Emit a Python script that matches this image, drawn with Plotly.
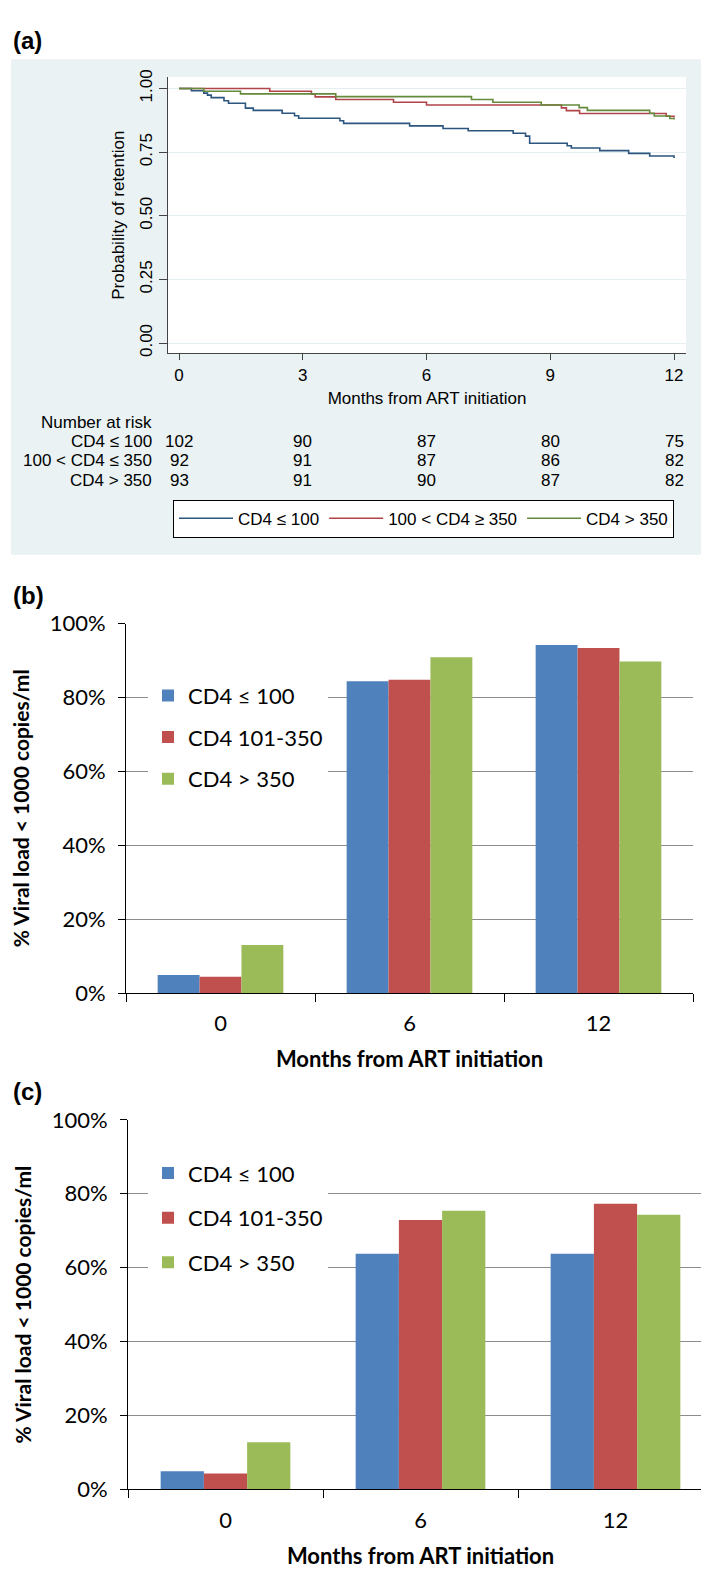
import plotly.graph_objects as go

W, H = 709, 1577


def fx(p):
    return p / W


def fy(p):
    return 1 - p / H


# ---------------- Panel (a): Kaplan-Meier retention ----------------
km_t_low = [0, 0.30, 0.60, 0.69, 0.78, 1.09, 1.20, 1.61, 1.80, 2.50, 2.80, 2.90, 3.90, 3.99,
            5.59, 6.40, 7.01, 8.10, 8.40, 8.50, 9.41, 9.51, 10.20, 10.90, 11.41, 12.0]
km_s_low = [1.0, 0.991, 0.982, 0.974, 0.964, 0.952, 0.942, 0.923, 0.914, 0.903, 0.893, 0.883, 0.873, 0.863,
            0.853, 0.843, 0.834, 0.824, 0.813, 0.785, 0.775, 0.766, 0.756, 0.745, 0.735, 0.727]
km_t_mid = [0, 2.20, 3.21, 3.30, 3.80, 5.20, 6.00, 9.27, 9.39, 9.71, 11.81, 12.0]
km_s_mid = [1.0, 0.989, 0.978, 0.967, 0.957, 0.946, 0.935, 0.924, 0.913, 0.902, 0.891, 0.886]
km_t_high = [0, 0.60, 1.49, 3.80, 7.09, 7.61, 8.78, 9.70, 9.90, 11.41, 11.52, 11.90, 12.0]
km_s_high = [1.0, 0.989, 0.979, 0.968, 0.957, 0.946, 0.935, 0.925, 0.914, 0.903, 0.892, 0.882, 0.878]
km_names = ["CD4 ≤ 100", "100 < CD4 ≥ 350", "CD4 > 350"]
km_colors = ["#2c5680", "#b04448", "#648a3c"]

km_xticks = [0, 3, 6, 9, 12]
km_yticks = [0, 0.25, 0.5, 0.75, 1.0]
km_yticktext = ["0.00", "0.25", "0.50", "0.75", "1.00"]

risk_months = [0, 3, 6, 9, 12]
risk_labels = ["CD4 ≤ 100", "100 < CD4 ≤ 350", "CD4 > 350"]
risk_low = [102, 90, 87, 80, 75]
risk_mid = [92, 91, 87, 86, 82]
risk_high = [93, 91, 90, 87, 82]

# ---------------- Panels (b) and (c): viral suppression ----------------
vl_months = ["0", "6", "12"]
vl_names = ["CD4 ≤ 100", "CD4 101-350", "CD4 > 350"]
vl_colors = ["#4f81bd", "#c0504d", "#9bbb59"]
b_low = [4.9, 84.4, 94.2]
b_mid = [4.4, 84.8, 93.4]
b_high = [13.0, 90.9, 89.7]
c_low = [4.9, 63.8, 63.8]
c_mid = [4.3, 72.9, 77.3]
c_high = [12.8, 75.4, 74.3]

STATA_FONT = "Liberation Sans, Arial, sans-serif"
OFFICE_FONT = "Lato, Open Sans, sans-serif"

fig = go.Figure()

for t, s, nm, col in zip([km_t_low, km_t_mid, km_t_high],
                         [km_s_low, km_s_mid, km_s_high], km_names, km_colors):
    fig.add_trace(go.Scatter(x=t, y=s, mode="lines", name=nm,
                             line=dict(shape="hv", color=col, width=1.6),
                             xaxis="x", yaxis="y", legend="legend"))

for k, (vals, nm, col) in enumerate(zip([b_low, b_mid, b_high], vl_names, vl_colors)):
    fig.add_trace(go.Bar(x=vl_months, y=vals, name=nm, marker=dict(color=col, line=dict(width=0)),
                         xaxis="x2", yaxis="y2", legend="legend2", legendgroup="b%d" % k))
for k, (vals, nm, col) in enumerate(zip([c_low, c_mid, c_high], vl_names, vl_colors)):
    fig.add_trace(go.Bar(x=vl_months, y=vals, name=nm, marker=dict(color=col, line=dict(width=0)),
                         xaxis="x3", yaxis="y3", legend="legend3", legendgroup="c%d" % k))

annotations = []
# panel labels
for lab, yy in [("(a)", 19), ("(b)", 583), ("(c)", 1088)]:
    annotations.append(dict(text="<b>%s</b>" % lab, xref="paper", yref="paper", x=fx(3), y=fy(yy),
                            xanchor="left", yanchor="middle", showarrow=False,
                            font=dict(family=STATA_FONT, size=24, color="#000")))
# number at risk table
annotations.append(dict(text="Number at risk", xref="paper", yref="paper", x=fx(146), y=fy(407.5),
                        xanchor="right", yanchor="middle", showarrow=False,
                        font=dict(family=STATA_FONT, size=17, color="#000")))
for lab, counts, yy in zip(risk_labels, [risk_low, risk_mid, risk_high], [427, 446.5, 466]):
    annotations.append(dict(text=lab, xref="paper", yref="paper", x=fx(146), y=fy(yy),
                            xanchor="right", yanchor="middle", showarrow=False,
                            font=dict(family=STATA_FONT, size=17, color="#000")))
    for m, n in zip(risk_months, counts):
        annotations.append(dict(text=str(n), xref="x", yref="paper", x=m, y=fy(yy),
                                xanchor="center", yanchor="middle", showarrow=False,
                                font=dict(family=STATA_FONT, size=17, color="#000")))

shapes = [
    dict(type="rect", xref="paper", yref="paper", x0=fx(3), x1=fx(697), y0=fy(542), y1=fy(38),
         fillcolor="#eaf2f3", line=dict(width=0), layer="below"),
    dict(type="rect", xref="x domain", yref="y domain", x0=0, x1=1, y0=0, y1=1,
         fillcolor="#ffffff", line=dict(width=0), layer="below"),
]

bar_x_common = dict(type="category", range=[-0.5, 2.5], tickson="boundaries", ticks="outside",
                    ticklen=8, tickcolor="#000", showline=True, linecolor="#000", linewidth=1,
                    showgrid=False, zeroline=False, ticklabelstandoff=11,
                    tickfont=dict(family=OFFICE_FONT, size=22, color="#000"))
bar_y_common = dict(range=[0, 100], dtick=20, ticksuffix="%", ticks="outside", ticklen=7,
                    tickcolor="#000", showline=True, linecolor="#000", linewidth=1,
                    showgrid=True, gridcolor="#8c8c8c", gridwidth=1.3, zeroline=False,
                    ticklabelstandoff=8, tickfont=dict(family=OFFICE_FONT, size=22, color="#000"))
x_title = dict(text="<b>Months from ART initiation</b>", standoff=16,
               font=dict(family=OFFICE_FONT, size=22, color="#000"))
y_title = dict(text="<b>% Viral load < 1000 copies/ml</b>", standoff=14,
               font=dict(family=OFFICE_FONT, size=21, color="#000"))

fig.update_layout(
    width=W, height=H, autosize=False,
    margin=dict(l=0, r=0, t=0, b=0),
    paper_bgcolor="#ffffff", plot_bgcolor="#ffffff",
    barmode="group", bargap=0.335, bargroupgap=0,
    font=dict(family=STATA_FONT, size=17, color="#000"),
    xaxis=dict(domain=[fx(160), fx(678)], range=[-0.267, 12.29], anchor="y",
               tickvals=km_xticks, ticks="outside", ticklen=6, tickcolor="#444",
               showline=True, linecolor="#444", linewidth=1.3, showgrid=False, zeroline=False,
               tickfont=dict(family=STATA_FONT, size=17, color="#000"),
               title=dict(text="Months from ART initiation", standoff=8,
                          font=dict(family=STATA_FONT, size=17, color="#000"))),
    yaxis=dict(domain=[fy(337), fy(56)], range=[-0.04, 1.045], anchor="x",
               tickvals=km_yticks, ticktext=km_yticktext, tickangle=-90,
               ticks="outside", ticklen=8, tickcolor="#444",
               showline=True, linecolor="#444", linewidth=1.3,
               showgrid=True, gridcolor="#e4eef0", gridwidth=1, zeroline=False,
               tickfont=dict(family=STATA_FONT, size=17, color="#000"),
               title=dict(text="Probability of retention", standoff=8,
                          font=dict(family=STATA_FONT, size=17, color="#000"))),
    xaxis2=dict(domain=[fx(118), fx(685)], anchor="y2", title=x_title, **bar_x_common),
    yaxis2=dict(domain=[fy(988), fy(612)], anchor="x2", title=y_title, **bar_y_common),
    xaxis3=dict(domain=[fx(120), fx(705)], anchor="y3", title=x_title, **bar_x_common),
    yaxis3=dict(domain=[fy(1493), fy(1117)], anchor="x3", title=y_title, **bar_y_common),
    legend=dict(orientation="h", x=fx(165), y=fy(486), xanchor="left", yanchor="top",
                bgcolor="#ffffff", bordercolor="#000", borderwidth=1, itemwidth=54,
                font=dict(family=STATA_FONT, size=17, color="#000")),
    legend2=dict(x=fx(140), y=fy(664), xanchor="left", yanchor="top", bgcolor="#ffffff",
                 borderwidth=0, tracegroupgap=10,
                 font=dict(family=OFFICE_FONT, size=22, color="#000")),
    legend3=dict(x=fx(140), y=fy(1150), xanchor="left", yanchor="top", bgcolor="#ffffff",
                 borderwidth=0, tracegroupgap=13,
                 font=dict(family=OFFICE_FONT, size=22, color="#000")),
    annotations=annotations,
    shapes=shapes,
)

fig.write_html("out.html")
